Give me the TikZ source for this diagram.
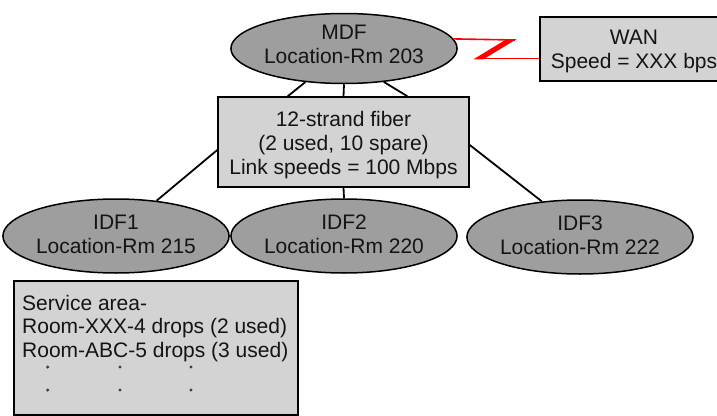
\documentclass[tikz,border=0pt]{standalone}
\usepackage{fontspec}
\setmainfont{Liberation Sans}
\usetikzlibrary{shapes.geometric,calc}
\definecolor{ellgray}{RGB}{158,158,158}
\definecolor{boxgray}{RGB}{211,211,211}
\definecolor{txt}{RGB}{20,20,20}
\begin{document}
\begin{tikzpicture}[x=1pt,y=-1pt,
  every node/.style={font=\fontsize{21}{24}\selectfont, text=txt},
  ell/.style={ellipse, draw=black, line width=1.5pt, fill=ellgray, inner sep=0pt, align=center},
  box/.style={rectangle, draw=black, line width=1.5pt, fill=boxgray, inner sep=0pt, align=center},
  dotmark/.style={circle, fill=black!75, inner sep=0pt, minimum size=3.4pt},
  link/.style={draw=black, line width=1.8pt},
  zap/.style={draw=red, line width=1.6pt}]
\useasboundingbox (0,0) rectangle (717,415);
\clip (0,0) rectangle (717,415);

% nodes
\node[ell, minimum width=198pt, minimum height=70pt] (mdf) at (344,48.5)
  {MDF\\Location-Rm 203\rule[-8pt]{0pt}{8pt}};
\node[box, minimum width=188pt, minimum height=64pt] (wan) at (634,49)
  {\rule{0pt}{19.8pt}WAN\\Speed = XXX bps};
\node[box, minimum width=251pt, minimum height=90pt] (fiber) at (343.5,142)
  {\rule{0pt}{21.3pt}12-strand fiber\\(2 used, 10 spare)\\Link speeds = 100 Mbps};
\node[ell, minimum width=202pt, minimum height=74pt] (idf1) at (116,236)
  {IDF1\\Location-Rm 215\rule[-3pt]{0pt}{3pt}};
\node[ell, minimum width=202pt, minimum height=74pt] (idf2) at (344,236)
  {IDF2\\Location-Rm 220\rule[-3pt]{0pt}{3pt}};
\node[ell, minimum width=202pt, minimum height=74pt] (idf3) at (580,237)
  {IDF3\\Location-Rm 222\rule[-3pt]{0pt}{3pt}};
\node[box, anchor=north west, minimum width=284pt, minimum height=134pt] (service) at (13,280) {};
\node[anchor=north west, align=left, inner sep=0pt, font=\fontsize{21}{23.5}\selectfont]
  (servicetext) at (22,295) {Service area-\\Room-XXX-4 drops (2 used)\\Room-ABC-5 drops (3 used)};
\node[dotmark] (d1) at (47.7,367) {};
\node[dotmark] (d2) at (120,367) {};
\node[dotmark] (d3) at (191,367) {};
\node[dotmark] (d4) at (47.7,390) {};
\node[dotmark] (d5) at (120,390) {};
\node[dotmark] (d6) at (191,390) {};

% connectors
\draw[link] (mdf.221) -- ($(fiber.north west)!0.279!(fiber.north east)$);
\draw[link] (mdf.south) -- (fiber.north);
\draw[link] (mdf.320) -- ($(fiber.north west)!0.753!(fiber.north east)$);
\draw[link] ($(fiber.west)+(0,8)$) -- (idf1.41);
\draw[link] (fiber.south) -- (idf2.north);
\draw[link] ($(fiber.east)+(0,3)$) -- (idf3.137);

% WAN lightning link
\coordinate (z1) at (515,40);
\coordinate (z2) at (475,58.5);
\draw[zap] (mdf.5) -- (z1);
\fill[red] (516.5,39.2) -- (506.5,39.2) -- (473.5,59.3) -- (483.5,59.3) -- cycle;
\draw[zap] (z2) -- ($(wan.west)+(0,9.5)$);
\end{tikzpicture}
\end{document}
